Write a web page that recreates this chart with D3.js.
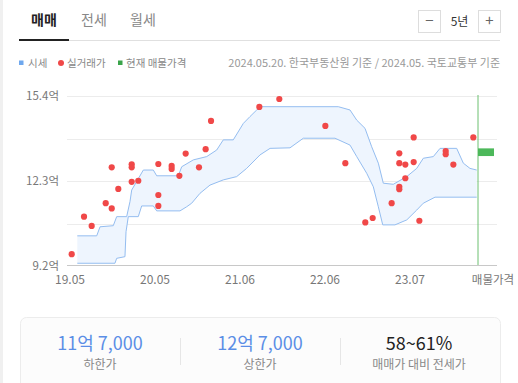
<!DOCTYPE html>
<html><head><meta charset="utf-8">
<script src="https://cdn.jsdelivr.net/npm/d3@7"></script>
<style>
html,body{margin:0;padding:0;background:#fff;}
svg{display:block;font-family:"Noto Sans CJK KR","Noto Sans",sans-serif;}
</style></head>
<body><svg id="c" width="518" height="383"></svg>
<script>
// ---- data ----
const tabs = ["매매","전세","월세"];
const periodLabel = "5년";
const xTickIdx = [0, 12, 24, 36, 48];
const xTickLabels = ["19.05","20.05","21.06","22.06","23.07"];
const yTicks = [9.2, 10.75, 12.3, 13.85, 15.4];
const yLabelTicks = [9.2, 12.3, 15.4];
// 시세 band (x: period index, value: 억)
const upperIdx = [1.03,3.77,4.24,6.11,6.59,8.0,8.47,8.71,10.35,11.76,12.24,15.29,15.77,17.41,19.3,20.71,21.64,23.05,24.47,25.41,26.36,27.06,37.88,39.53,40.48,41.65,42.59,43.53,44.23,45.64,47.54,48.95,49.88,51.29,52.24,54.59,55.53,56.47,57.42];
const upperVal = [10.30,10.30,10.63,10.67,11.00,11.00,11.55,11.97,12.70,12.70,12.49,12.49,12.82,13.07,13.19,13.43,13.80,13.80,14.40,14.65,14.89,15.01,15.01,14.89,14.52,14.22,13.55,12.95,12.22,12.18,12.46,12.76,13.13,13.19,13.49,13.49,12.95,12.76,12.70];
const lowerIdx = [1.03,6.35,6.59,7.76,7.91,8.23,9.64,10.12,11.76,12.24,15.53,16.47,17.18,18.35,19.76,21.64,23.53,24.94,26.82,28.24,31.06,32.94,37.41,39.53,40.48,41.89,42.82,43.53,44.15,45.88,47.54,48.95,49.88,51.53,57.42];
const lowerVal = [9.30,9.30,9.48,9.54,10.45,11.00,11.00,11.39,11.39,11.21,11.21,11.36,11.49,11.85,12.15,12.34,12.46,12.76,13.25,13.49,13.51,13.86,13.86,13.61,13.19,12.58,12.09,11.36,10.70,10.70,10.88,11.24,11.49,11.71,11.71];
// 실거래가
const dealIdx = [0.24,1.98,3.06,5.04,5.89,5.89,6.82,8.71,8.71,8.71,9.64,12.47,12.47,12.47,14.35,14.35,15.44,16.33,18.21,19.15,19.91,26.73,29.55,36.05,38.87,41.69,42.73,45.41,46.49,46.49,46.49,46.49,47.34,47.34,48.52,48.52,49.32,53.04,53.04,54.12,56.94];
const dealVal = [9.63,11.00,10.66,11.49,11.30,12.80,12.01,12.91,12.80,12.27,12.31,12.92,11.79,11.39,12.85,12.74,12.49,13.30,12.80,13.46,14.49,15.00,15.29,14.31,12.95,10.79,10.95,11.49,13.31,12.95,12.09,12.00,12.90,12.40,13.89,12.99,10.85,13.39,13.28,12.90,13.89];
// 현재 매물가격
const listingIdx = 57.6;
const listingRange = [13.21, 13.49];
const listingLabel = "매물가격";
const legendItems = ["시세","실거래가","현재 매물가격"];
const sourceText = "2024.05.20. 한국부동산원 기준 / 2024.05. 국토교통부 기준";
const summaryValues = ["11억 7,000","12억 7,000","58~61%"];
const summaryLabels = ["하한가","상한가","매매가 대비 전세가"];

// ---- drawing ----
const svg = d3.select("#c");
const x = d3.scaleLinear().domain([0,48]).range([70,410]);
const y = d3.scaleLinear().domain([9.2,15.4]).range([266,96]);

svg.append("rect").attr("x",0).attr("y",0).attr("width",3).attr("height",383).attr("fill","#f0f0f0");

// tabs
const tabX = [44, 94, 143];
tabs.forEach((t,i)=>{
  svg.append("text").attr("x",tabX[i]).attr("y",25).attr("text-anchor","middle")
    .attr("font-size",14).attr("font-weight",i===0?700:400)
    .attr("fill",i===0?"#222":"#888").text(t);
});
svg.append("line").attr("x1",19).attr("x2",500).attr("y1",40.5).attr("y2",40.5).attr("stroke","#e0e0e0");
svg.append("line").attr("x1",19).attr("x2",69).attr("y1",40).attr("y2",40).attr("stroke","#222").attr("stroke-width",2);

// period control
[[418.5,"−"],[478.5,"+"]].forEach(([bx,s])=>{
  svg.append("rect").attr("x",bx).attr("y",10.5).attr("width",22).attr("height",22).attr("fill","#fff").attr("stroke","#ddd");
  svg.append("text").attr("x",bx+11).attr("y",26).attr("text-anchor","middle").attr("font-size",15).attr("fill","#666").text(s);
});
svg.append("text").attr("x",459.5).attr("y",26).attr("text-anchor","middle").attr("font-size",12).attr("fill","#333").text(periodLabel);

// legend
const ly = 63;
svg.append("rect").attr("x",19).attr("y",ly-2.5).attr("width",4.5).attr("height",4.5).attr("fill","#6fa8ee");
svg.append("text").attr("x",28).attr("y",ly+3.5).attr("font-size",10.5).attr("fill","#888").text(legendItems[0]);
svg.append("circle").attr("cx",61).attr("cy",ly).attr("r",3).attr("fill","#f04848");
svg.append("text").attr("x",67).attr("y",ly+3.5).attr("font-size",10.5).attr("fill","#888").text(legendItems[1]);
svg.append("rect").attr("x",118).attr("y",ly-2.5).attr("width",4.5).attr("height",4.5).attr("fill","#3aa44a");
svg.append("text").attr("x",126).attr("y",ly+3.5).attr("font-size",10.5).attr("fill","#888").text(legendItems[2]);
svg.append("text").attr("x",500).attr("y",ly+3.5).attr("text-anchor","end").attr("font-size",11).attr("fill","#999").text(sourceText);

// grid
svg.append("g").selectAll("line").data(yTicks.slice(1)).join("line")
  .attr("x1",67).attr("x2",497).attr("y1",d=>Math.round(y(d))+0.5).attr("y2",d=>Math.round(y(d))+0.5)
  .attr("stroke","#ececec");
svg.append("line").attr("x1",67).attr("x2",497).attr("y1",265.5).attr("y2",265.5).attr("stroke","#c8c8c8");
// y labels
svg.append("g").selectAll("text").data(yLabelTicks).join("text")
  .attr("x",59).attr("y",d=>y(d)+4).attr("text-anchor","end").attr("font-size",11.5).attr("fill","#777")
  .text(d=>d.toFixed(1)+"억");
// x labels
svg.append("g").selectAll("text").data(xTickIdx).join("text")
  .attr("x",d=>x(d)).attr("y",284).attr("text-anchor","middle").attr("font-size",12).attr("fill","#777")
  .text((d,i)=>xTickLabels[i]);
svg.append("text").attr("x",493).attr("y",284).attr("text-anchor","middle").attr("font-size",11.5).attr("fill","#777").text(listingLabel);

// band
const up = upperIdx.map((d,i)=>[x(d),y(upperVal[i])]);
const lo = lowerIdx.map((d,i)=>[x(d),y(lowerVal[i])]);
const line = d3.line();
svg.append("path").attr("d",line(up.concat(lo.slice().reverse()))+"Z").attr("fill","#eef5fe");
svg.append("path").attr("d",line(up)).attr("fill","none").attr("stroke","#94bdf0").attr("stroke-width",1);
svg.append("path").attr("d",line(lo)).attr("fill","none").attr("stroke","#94bdf0").attr("stroke-width",1);

// listing
const lx = x(listingIdx);
svg.append("line").attr("x1",lx).attr("x2",lx).attr("y1",95).attr("y2",265).attr("stroke","#6cc070").attr("stroke-width",1);
svg.append("rect").attr("x",lx).attr("y",y(listingRange[1])).attr("width",16)
  .attr("height",y(listingRange[0])-y(listingRange[1])).attr("fill","#4cb85a");

// deals
svg.append("g").selectAll("circle").data(dealIdx).join("circle")
  .attr("cx",d=>x(d)).attr("cy",(d,i)=>y(dealVal[i])).attr("r",3.1).attr("fill","#f04848");

// summary box
svg.append("rect").attr("x",20.5).attr("y",317.5).attr("width",480).attr("height",80).attr("rx",6)
  .attr("fill","#fcfcfc").attr("stroke","#ececec");
[180.5,340.5].forEach(dx=>svg.append("line").attr("x1",dx).attr("x2",dx).attr("y1",338).attr("y2",365).attr("stroke","#e6e6e6"));
const cx = [100,260,419];
summaryValues.forEach((v,i)=>{
  svg.append("text").attr("x",cx[i]).attr("y",350).attr("text-anchor","middle").attr("font-size",18)
    .attr("fill",i<2?"#5b8ee6":"#222").text(v);
  svg.append("text").attr("x",cx[i]).attr("y",369).attr("text-anchor","middle").attr("font-size",12)
    .attr("fill","#888").text(summaryLabels[i]);
});
</script></body></html>
